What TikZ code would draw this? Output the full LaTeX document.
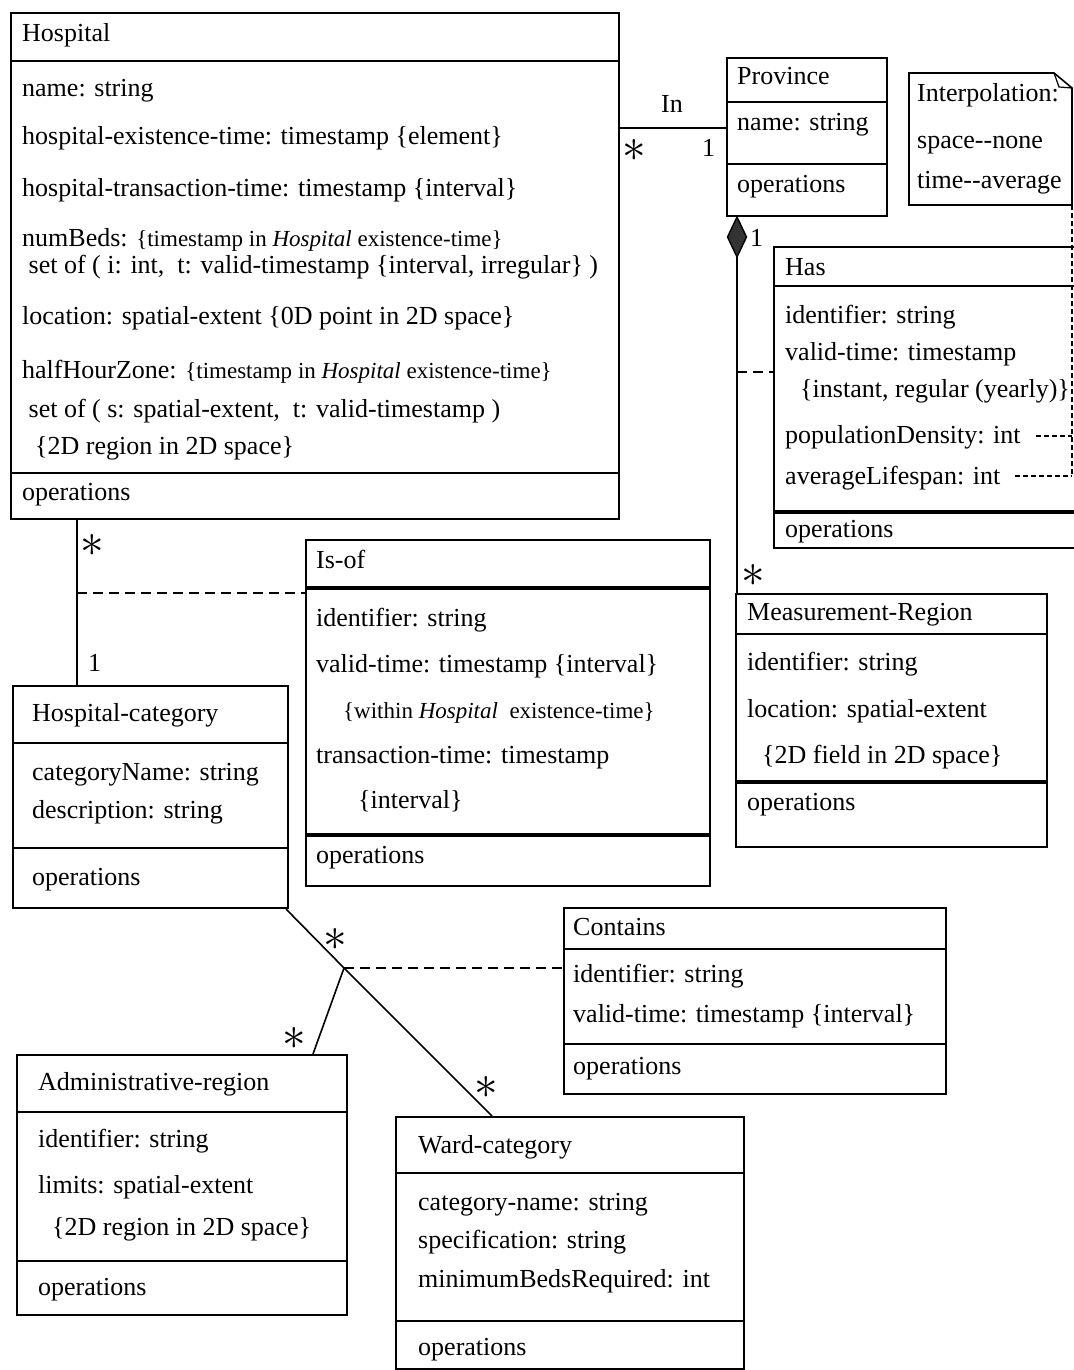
\documentclass[tikz,border=0pt]{standalone}
\usepackage{fontspec}
\setmainfont{Liberation Serif}
\newcommand\sm{\fontsize{23}{27}\selectfont}
\newcommand\many{\scalebox{1.9}{$\ast$}}
\begin{document}
\begin{tikzpicture}[x=1pt,y=-1pt,
  box/.style={draw, line width=2pt, inner sep=0pt, anchor=north west},
  div/.style={line width=2pt},
  thickdiv/.style={line width=3.6pt},
  assoc/.style={line width=1.6pt},
  assocdash/.style={line width=1.6pt, dash pattern=on 10pt off 6pt},
  notedash/.style={line width=1.5pt, dash pattern=on 5pt off 3pt},
  txt/.style={anchor=base west, inner sep=0pt, font=\fontsize{26}{30}\selectfont},
  mult/.style={inner sep=0pt, font=\fontsize{24}{24}\selectfont}]
\useasboundingbox (0,0) rectangle (1073,1370);

% ---------- class boxes ----------
\node[box, minimum width=608pt, minimum height=506pt] (hosp) at (10,12) {};
\draw[div] (hosp.west |- 0,61) -- (hosp.east |- 0,61);
\draw[div] (hosp.west |- 0,473) -- (hosp.east |- 0,473);

\node[box, minimum width=160pt, minimum height=158pt] (prov) at (726,57) {};
\draw[div] (prov.west |- 0,102) -- (prov.east |- 0,102);
\draw[div] (prov.west |- 0,164) -- (prov.east |- 0,164);

\node[box, minimum width=310pt, minimum height=301pt] (has) at (773,246) {};
\draw[div] (has.west |- 0,286) -- (has.east |- 0,286);
\draw[thickdiv] (has.west |- 0,512) -- (has.east |- 0,512);

\node[box, minimum width=404pt, minimum height=346pt] (isof) at (305,539) {};
\draw[thickdiv] (isof.west |- 0,588) -- (isof.east |- 0,588);
\draw[thickdiv] (isof.west |- 0,835) -- (isof.east |- 0,835);

\node[box, minimum width=311pt, minimum height=253pt] (meas) at (735,593) {};
\draw[div] (meas.west |- 0,634) -- (meas.east |- 0,634);
\draw[thickdiv] (meas.west |- 0,782) -- (meas.east |- 0,782);

\node[box, minimum width=275pt, minimum height=222pt] (hcat) at (12,685) {};
\draw[div] (hcat.west |- 0,743) -- (hcat.east |- 0,743);
\draw[div] (hcat.west |- 0,848) -- (hcat.east |- 0,848);

\node[box, minimum width=382pt, minimum height=186pt] (cont) at (563,907) {};
\draw[div] (cont.west |- 0,949) -- (cont.east |- 0,949);
\draw[div] (cont.west |- 0,1044) -- (cont.east |- 0,1044);

\node[box, minimum width=330pt, minimum height=260pt] (admin) at (16,1054) {};
\draw[div] (admin.west |- 0,1112) -- (admin.east |- 0,1112);
\draw[div] (admin.west |- 0,1261) -- (admin.east |- 0,1261);

\node[box, minimum width=348pt, minimum height=252pt] (ward) at (395,1116) {};
\draw[div] (ward.west |- 0,1173) -- (ward.east |- 0,1173);
\draw[div] (ward.west |- 0,1321) -- (ward.east |- 0,1321);

% ---------- note ----------
\coordinate (nNW) at (909,73);
\coordinate (nFold) at (1054,73);
\coordinate (nNE) at (1072,88);
\coordinate (nSE) at (1072,205);
\coordinate (nSW) at (909,205);
\draw[line width=1.6pt, line join=miter] (nNW) -- (nFold) -- (nNE) -- (nSE) -- (nSW) -- cycle;
\draw[line width=1.2pt] (nFold) -- (1059,87) -- (nNE);

% ---------- texts ----------
\node[txt] (t1) at (22,42) {Hospital};
\node[txt] (t2) at (22,97) {name: string};
\node[txt] (t3) at (22,144) {hospital-existence-time: timestamp \{element\}};
\node[txt] (t4) at (22,196) {hospital-transaction-time: timestamp \{interval\}};
\node[txt] (t5) at (22,246) {numBeds: {\sm\{timestamp in \textit{Hospital} existence-time\}}};
\node[txt] (t6) at (22,273) {\ set of ( i: int,\ \ t: valid-timestamp \{interval, irregular\} )};
\node[txt] (t7) at (22,324) {location: spatial-extent \{0D point in 2D space\}};
\node[txt] (t8) at (22,378) {halfHourZone: {\sm\{timestamp in \textit{Hospital} existence-time\}}};
\node[txt] (t9) at (22,417) {\ set of ( s: spatial-extent,\ \ t: valid-timestamp )};
\node[txt] (t10) at (22,454) {\ \ \{2D region in 2D space\}};
\node[txt] (t11) at (22,500) {operations};

\node[txt] (p1) at (737,85) {Province};
\node[txt] (p2) at (737,131) {name: string};
\node[txt] (p3) at (737,192) {operations};

\node[txt] (n1) at (917,102) {Interpolation:};
\node[txt] (n2) at (917,148) {space-{}-none};
\node[txt] (n3) at (917,188) {time-{}-average};

\node[txt] (h1) at (785,275) {Has};
\node[txt] (h2) at (785,323) {identifier: string};
\node[txt] (h3) at (785,360) {valid-time: timestamp};
\node[txt] (h4) at (800,397) {\{instant, regular (yearly)\}};
\node[txt] (h5) at (785,443) {populationDensity: int};
\node[txt] (h6) at (785,484) {averageLifespan: int};
\node[txt] (h7) at (785,537) {operations};

\node[txt] (i1) at (316,568) {Is-of};
\node[txt] (i2) at (316,626) {identifier: string};
\node[txt] (i3) at (316,672) {valid-time: timestamp \{interval\}};
\node[txt] (i4) at (343,718) {\sm\{within \textit{Hospital}\ \ existence-time\}};
\node[txt] (i5) at (316,763) {transaction-time: timestamp};
\node[txt] (i6) at (358,808) {\{interval\}};
\node[txt] (i7) at (316,863) {operations};

\node[txt] (m1) at (747,620) {Measurement-Region};
\node[txt] (m2) at (747,670) {identifier: string};
\node[txt] (m3) at (747,717) {location: spatial-extent};
\node[txt] (m4) at (762,763) {\{2D field in 2D space\}};
\node[txt] (m5) at (747,810) {operations};

\node[txt] (c1) at (32,721) {Hospital-category};
\node[txt] (c2) at (32,780) {categoryName: string};
\node[txt] (c3) at (32,818) {description: string};
\node[txt] (c4) at (32,885) {operations};

\node[txt] (k1) at (573,935) {Contains};
\node[txt] (k2) at (573,982) {identifier: string};
\node[txt] (k3) at (573,1022) {valid-time: timestamp \{interval\}};
\node[txt] (k4) at (573,1074) {operations};

\node[txt] (a1) at (38,1090) {Administrative-region};
\node[txt] (a2) at (38,1147) {identifier: string};
\node[txt] (a3) at (38,1193) {limits: spatial-extent};
\node[txt] (a4) at (52,1235) {\{2D region in 2D space\}};
\node[txt] (a5) at (38,1295) {operations};

\node[txt] (w1) at (418,1153) {Ward-category};
\node[txt] (w2) at (418,1210) {category-name: string};
\node[txt] (w3) at (418,1248) {specification: string};
\node[txt] (w4) at (418,1287) {minimumBedsRequired: int};
\node[txt] (w5) at (418,1355) {operations};

% ---------- attribute interpolation links ----------
\draw[notedash] (1036,436) -- (1072,436);
\draw[notedash] (1015,476) -- (1072,476);
\draw[notedash] (nSE) -- (1072,476);

% ---------- associations ----------
% In
\draw[assoc] (hosp.east |- 0,128) -- (prov.west |- 0,128);
\node[txt] (lIn) at (661,113) {In};
\node[mult] (lInA) at (634,151) {\many};
\node[txt] (lIn1) at (702,157) {1};

% composition Province -- Measurement-Region
\coordinate (dTop) at ([xshift=11pt]prov.south west);
\coordinate (dBot) at ([yshift=-40pt]dTop);
\draw[line width=1.4pt, fill=black!80] (dTop) -- ([xshift=9.5pt,yshift=-20pt]dTop) -- (dBot) -- ([xshift=-9.5pt,yshift=-20pt]dTop) -- cycle;
\draw[assoc] (dBot) -- (dBot |- meas.north);
\draw[assocdash] (dBot |- 0,372) -- (has.west |- 0,372);
\node[txt] (lC1) at (750,246) {1};
\node[mult] (lCA) at (753,575) {\many};

% Is-of
\coordinate (hc) at (77,0);
\draw[assoc] (hc |- hosp.south) -- (hc |- hcat.north);
\draw[assocdash] (hc |- 0,593) -- (isof.west |- 0,593);
\node[mult] (lIsA) at (92,545) {\many};
\node[txt] (lIs1) at (88,671) {1};

% Contains (ternary)
\coordinate (jn) at (344,968);
\draw[assoc] ([xshift=-3pt]hcat.south east) -- (jn) -- (ward.north -| 492,0);
\draw[assoc] (jn) -- (admin.north -| 313,0);
\draw[assocdash] (jn) -- (cont.west |- jn);
\node[mult] (lK1) at (335,939) {\many};
\node[mult] (lK2) at (294,1038) {\many};
\node[mult] (lK3) at (486,1087) {\many};
\end{tikzpicture}
\end{document}
